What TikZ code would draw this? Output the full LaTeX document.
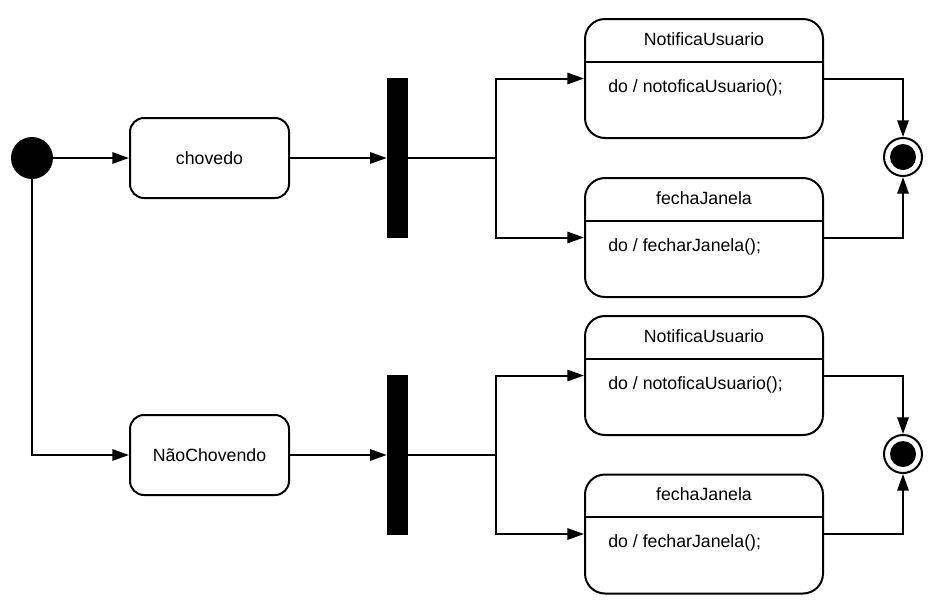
\documentclass[tikz,border=0pt]{standalone}
\usepackage{fontspec}
\setmainfont{Liberation Sans}
\usetikzlibrary{arrows.meta,calc}
\tikzset{
  px/.style={x=0.75pt,y=-0.75pt},
  conn/.style={line width=1.5pt,-{Triangle[length=12.5pt,width=8.5pt]}},
  plain/.style={line width=1.5pt},
  smallstate/.style={draw,line width=1.5pt,rounded corners=10.5pt,minimum width=119.25pt,minimum height=60pt,font=\fontsize{13.3}{16}\selectfont,inner sep=0pt},
  bigstate/.style={draw,line width=1.5pt,rounded corners=15pt,minimum width=178.5pt,minimum height=89.25pt,inner sep=0pt},
  lbl/.style={font=\fontsize{13.3}{16}\selectfont,inner sep=0pt},
  forkbar/.style={fill=black,draw=none,minimum width=15.75pt,minimum height=120pt,inner sep=0pt},
  initnode/.style={circle,fill=black,minimum size=31.5pt,inner sep=0pt},
  endouter/.style={circle,draw,line width=1.5pt,fill=white,minimum size=28.5pt,inner sep=0pt},
  endinner/.style={circle,fill=black,minimum size=19.5pt,inner sep=0pt},
}
\begin{document}
\begin{tikzpicture}[px]
\useasboundingbox (0,0) rectangle (941,612);
% initial
\node[initnode] (init) at (32,158) {};
% simple states
\node[smallstate] (chov) at (209.5,158) {chovedo};
\node[smallstate] (nao) at (209.5,455) {NãoChovendo};
% fork bars
\node[forkbar] (bar1) at (397.5,158) {};
\node[forkbar] (bar2) at (397.5,455) {};
% composite states
\node[bigstate] (n1) at (704,78.5) {};
\node[bigstate] (f1) at (704,237.5) {};
\node[bigstate] (n2) at (704,375.5) {};
\node[bigstate] (f2) at (704,534) {};
\foreach \b/\h/\d in {n1/NotificaUsuario/notoficaUsuario, f1/fechaJanela/fecharJanela, n2/NotificaUsuario/notoficaUsuario, f2/fechaJanela/fecharJanela}{
  \draw[plain] ($(\b.north west)+(0,43.5)$) coordinate (\b-hl) -- ($(\b.north east)+(0,43.5)$) coordinate (\b-hr);
  \node[lbl] (\b-title) at ($(\b.north)+(0,21)$) {\h};
  \node[lbl,anchor=west] (\b-body) at ($(\b.north west)+(24,69.5)$) {do / \d();};
}
% final states
\node[endouter] (e1) at (903,157) {};
\node[endinner] (e1i) at (e1) {};
\node[endouter] (e2) at (903,454) {};
\node[endinner] (e2i) at (e2) {};
% branch points
\coordinate (b1) at (496,158);
\coordinate (b2) at (496,455);
% connectors
\draw[conn] (init) -- (chov.west);
\draw[conn] (init) |- (nao.west);
\draw[conn] (chov.east) -- (bar1.west);
\draw[conn] (nao.east) -- (bar2.west);
\draw[plain] (bar1.east) -- (b1);
\draw[plain] (bar2.east) -- (b2);
\draw[conn] (b1) |- (n1.west);
\draw[conn] (b1) |- (f1.west);
\draw[conn] (b2) |- (n2.west);
\draw[conn] (b2) |- (f2.west);
\draw[conn] (n1.east) -| (e1.north);
\draw[conn] (f1.east) -| (e1.south);
\draw[conn] (n2.east) -| (e2.north);
\draw[conn] (f2.east) -| (e2.south);
\end{tikzpicture}
\end{document}
